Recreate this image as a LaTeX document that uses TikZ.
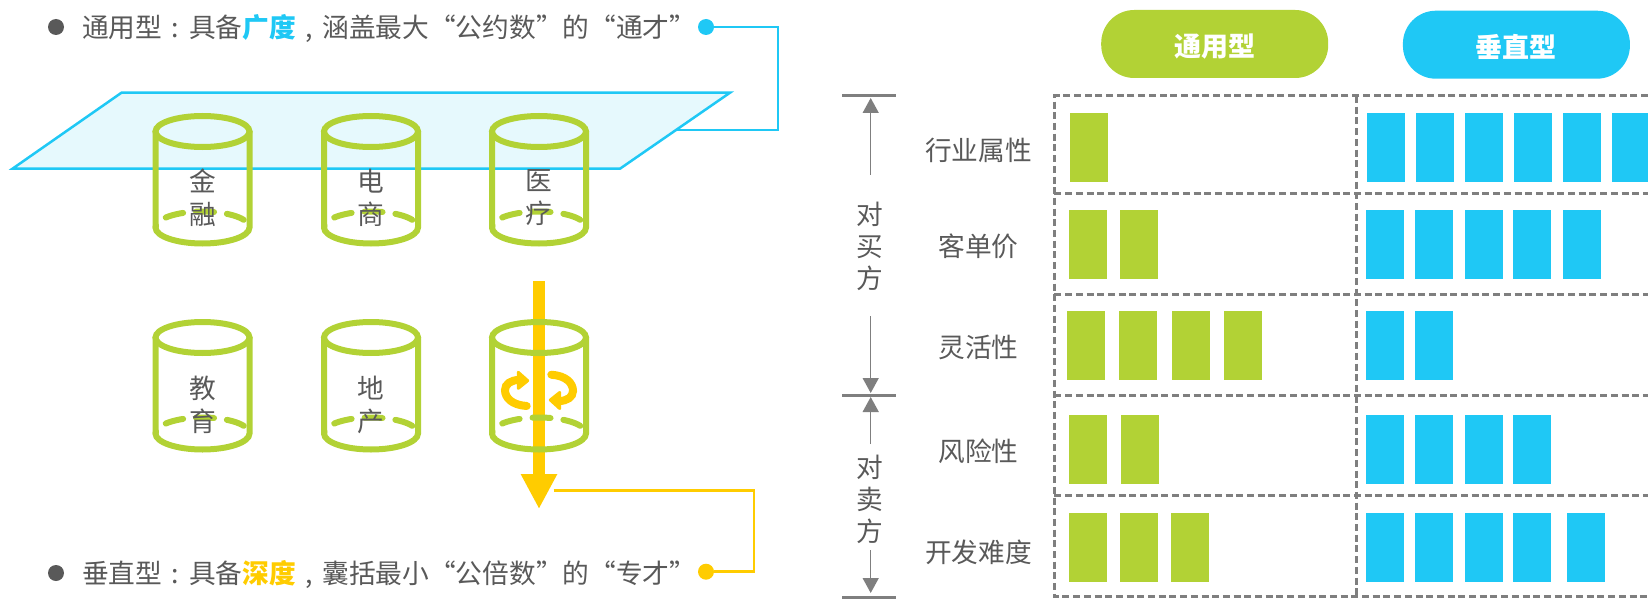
\documentclass[tikz,border=0pt]{standalone}
\usepackage{fontspec}
\setmainfont{Noto Sans CJK SC}
\usetikzlibrary{arrows.meta}
\definecolor{cyanc}{HTML}{1FC8F5}
\definecolor{greenc}{HTML}{B2D235}
\definecolor{yellowc}{HTML}{FFCC00}
\definecolor{grayc}{HTML}{7F7F7F}
\definecolor{textc}{HTML}{595959}
\definecolor{planec}{HTML}{E6F9FD}
\newcommand{\zp}[1]{\makebox[1em]{#1}}
\newcommand{\drawcan}[2]{
    \draw [canline] (#1,#2) ellipse [x radius=47,y radius=15.5];
    \draw [canline] (#1-47,#2) -- (#1-47,#2+96) arc [start angle=180,end angle=0,x radius=47,y radius=16] -- (#1+47,#2);
    \draw [canline,dash pattern=on 18pt off 13pt,dash phase=16pt] (#1-47,#2+96) arc [start angle=180,end angle=360,x radius=47,y radius=16];
}

\begin{document}
\begin{tikzpicture}[x=1pt,y=-1pt,
    txt/.style={text=textc,inner sep=0pt,font=\fontsize{26.7}{33}\selectfont},
    vtxt/.style={txt,align=center},
    canline/.style={draw=greenc,line width=6pt,line cap=round},
    dot/.style={circle,inner sep=0pt,minimum size=16pt},
    gbar/.style={fill=greenc,anchor=north west,inner sep=0pt,minimum width=38pt,minimum height=69pt},
    cbar/.style={fill=cyanc,anchor=north west,inner sep=0pt,minimum width=38pt,minimum height=69pt},
    pill/.style={anchor=center,rounded corners=33pt,inner sep=0pt,minimum width=227pt,minimum height=68pt,text=white,font=\fontsize{27}{33}\selectfont\bfseries},
    grid/.style={draw=grayc,line width=3pt,dash pattern=on 7pt off 3.7pt},
    tick/.style={draw=grayc,line width=3pt},
    garrow/.style={draw=grayc,line width=1.5pt,-{Triangle[length=15pt,width=16pt]}}]
    \useasboundingbox (0,0) rectangle (1648,599);

    % plane and its connector
    \draw [draw=cyanc,fill=planec,line width=2.5pt] (121.5,92.7) -- (730,92.7) -- (620,168.7) -- (12.5,168.7) -- cycle;
    \node [dot,fill=textc] (bul1) at (56,27) {};
    \node [txt,anchor=west] (line1) at (82,29) {通用型\zp{:}具备\textcolor{cyanc}{\bfseries 广度}\zp{,}涵盖最大“公约数”的“通才”};
    \node [dot,fill=cyanc] (dot1) at (706,27) {};
    \coordinate (c1) at (778,130);
    \coordinate (c2) at (676,130);
    \draw [draw=cyanc,line width=2.5pt] (dot1) -| (c1) -- (c2);

    % yellow arrow goes under the cans
    \coordinate (a1) at (539,281);
    \coordinate (a2) at (539,509);
    \draw [draw=yellowc,line width=12pt,-{Triangle[length=35pt,width=34pt]}] (a1) -- (a2);

    % cans
    \drawcan{202.5}{131.5}
    \drawcan{371}{131.5}
    \drawcan{539}{131.5}
    \drawcan{202.5}{337.5}
    \drawcan{371}{337.5}
    \drawcan{539}{337.5}
    \node [vtxt] (jinrong) at (202.5,198) {金\\融};
    \node [vtxt] (dianshang) at (371,198) {电\\商};
    \node [vtxt] (yiliao) at (539,198) {医\\疗};
    \node [vtxt] (jiaoyu) at (202.5,405) {教\\育};
    \node [vtxt] (dichan) at (371,405) {地\\产};

    % swirl in the last can
    \draw [draw=yellowc,line width=8pt,line cap=round] (526.7,406) .. controls (512,405) and (505,398) .. (505,390) .. controls (505,384) and (511,380) .. (519,380);
    \draw [draw=yellowc,fill=yellowc,line width=3pt,line join=round] (527.7,380.7) -- (518.3,372.3) -- (518.3,388.3) -- cycle;
    \draw [draw=yellowc,line width=8pt,line cap=round] (551.3,374.7) .. controls (566,375.7) and (573,383) .. (573,391) .. controls (573,397) and (567,401) .. (559,401);
    \draw [draw=yellowc,fill=yellowc,line width=3pt,line join=round] (550.3,400) -- (559.7,408.5) -- (559.7,392.5) -- cycle;

    % bottom line
    \node [dot,fill=textc] (bul2) at (56,573) {};
    \node [txt,anchor=west] (line2) at (82,574) {垂直型\zp{:}具备\textcolor{yellowc}{\bfseries 深度}\zp{,}囊括最小“公倍数”的“专才”};
    \node [dot,fill=yellowc] (dot2) at (706,571.7) {};
    \coordinate (y1) at (553.6,490.7);
    \coordinate (y2) at (754,490.7);
    \draw [draw=yellowc,line width=2.5pt] (y1) -- (y2) |- (dot2);

    % headers
    \node [pill,fill=greenc] (hgen) at (1214.7,44) {\raisebox{-2.5pt}[\height][\depth]{通用型}};
    \node [pill,fill=cyanc] (hver) at (1516.4,44.7) {\raisebox{-2.5pt}[\height][\depth]{垂直型}};

    % side scale
    \coordinate (t1a) at (842,96);
    \coordinate (t1b) at (896,96);
    \coordinate (t2a) at (842,395);
    \coordinate (t2b) at (896,395);
    \coordinate (t3a) at (842,597);
    \coordinate (t3b) at (896,597);
    \path [tick] (t1a) edge (t1b);
    \path [tick] (t2a) edge (t2b);
    \path [tick] (t3a) edge (t3b);
    \coordinate (u1) at (870.7,174.7);
    \coordinate (u2) at (870.7,98);
    \coordinate (d1) at (870.7,316);
    \coordinate (d2) at (870.7,393);
    \coordinate (u3) at (870.7,444);
    \coordinate (u4) at (870.7,397);
    \coordinate (d3) at (870.7,550);
    \coordinate (d4) at (870.7,593);
    \draw [garrow] (u1) -- (u2);
    \draw [garrow] (d1) -- (d2);
    \draw [garrow] (u3) -- (u4);
    \draw [garrow] (d3) -- (d4);
    \node [vtxt,font=\fontsize{26.7}{32}\selectfont] (buyer) at (869.6,246.5) {对\\买\\方};
    \node [vtxt,font=\fontsize{26.7}{32}\selectfont] (seller) at (869.6,499.5) {对\\卖\\方};

    % row labels
    \node [txt] (r1) at (978.4,150.5) {行业属性};
    \node [txt] (r2) at (978.4,246) {客单价};
    \node [txt] (r3) at (978.4,347) {灵活性};
    \node [txt] (r4) at (978.4,451) {风险性};
    \node [txt] (r5) at (978.4,552.5) {开发难度};

    % dashed grid
    \draw [grid] (1648,96) -- (1054.4,96) -- (1054.4,596.5) -- (1648,596.5);
    \draw [grid] (1054.4,193.5) -- (1648,193.5);
    \draw [grid] (1054.4,294) -- (1648,294);
    \draw [grid] (1054.4,395) -- (1648,395);
    \draw [grid] (1054.4,495) -- (1648,495);
    \draw [grid] (1356.4,96) -- (1356.4,596.5);

    % bars
    \node [gbar] (g11) at (1069.7,113) {};
    \node [cbar] (c11) at (1367,113) {};
    \node [cbar] (c12) at (1416,113) {};
    \node [cbar] (c13) at (1464.7,113) {};
    \node [cbar] (c14) at (1513.8,113) {};
    \node [cbar] (c15) at (1562.9,113) {};
    \node [cbar] (c16) at (1612,113) {};

    \node [gbar] (g21) at (1069.2,210) {};
    \node [gbar] (g22) at (1119.9,210) {};
    \node [cbar] (c21) at (1366,210) {};
    \node [cbar] (c22) at (1415,210) {};
    \node [cbar] (c23) at (1464.7,210) {};
    \node [cbar] (c24) at (1512.7,210) {};
    \node [cbar] (c25) at (1562.9,210) {};

    \node [gbar] (g31) at (1067,311) {};
    \node [gbar] (g32) at (1118.8,311) {};
    \node [gbar] (g33) at (1172.2,311) {};
    \node [gbar] (g34) at (1223.9,311) {};
    \node [cbar] (c31) at (1366,311) {};
    \node [cbar] (c32) at (1415,311) {};

    \node [gbar] (g41) at (1069.2,415) {};
    \node [gbar] (g42) at (1121,415) {};
    \node [cbar] (c41) at (1366,415) {};
    \node [cbar] (c42) at (1415,415) {};
    \node [cbar] (c43) at (1464.7,415) {};
    \node [cbar] (c44) at (1512.7,415) {};

    \node [gbar] (g51) at (1069.2,513) {};
    \node [gbar] (g52) at (1119.9,513) {};
    \node [gbar] (g53) at (1171.1,513) {};
    \node [cbar] (c51) at (1366,513) {};
    \node [cbar] (c52) at (1415,513) {};
    \node [cbar] (c53) at (1464.7,513) {};
    \node [cbar] (c54) at (1512.7,513) {};
    \node [cbar] (c55) at (1567.1,513) {};
\end{tikzpicture}
\end{document}
